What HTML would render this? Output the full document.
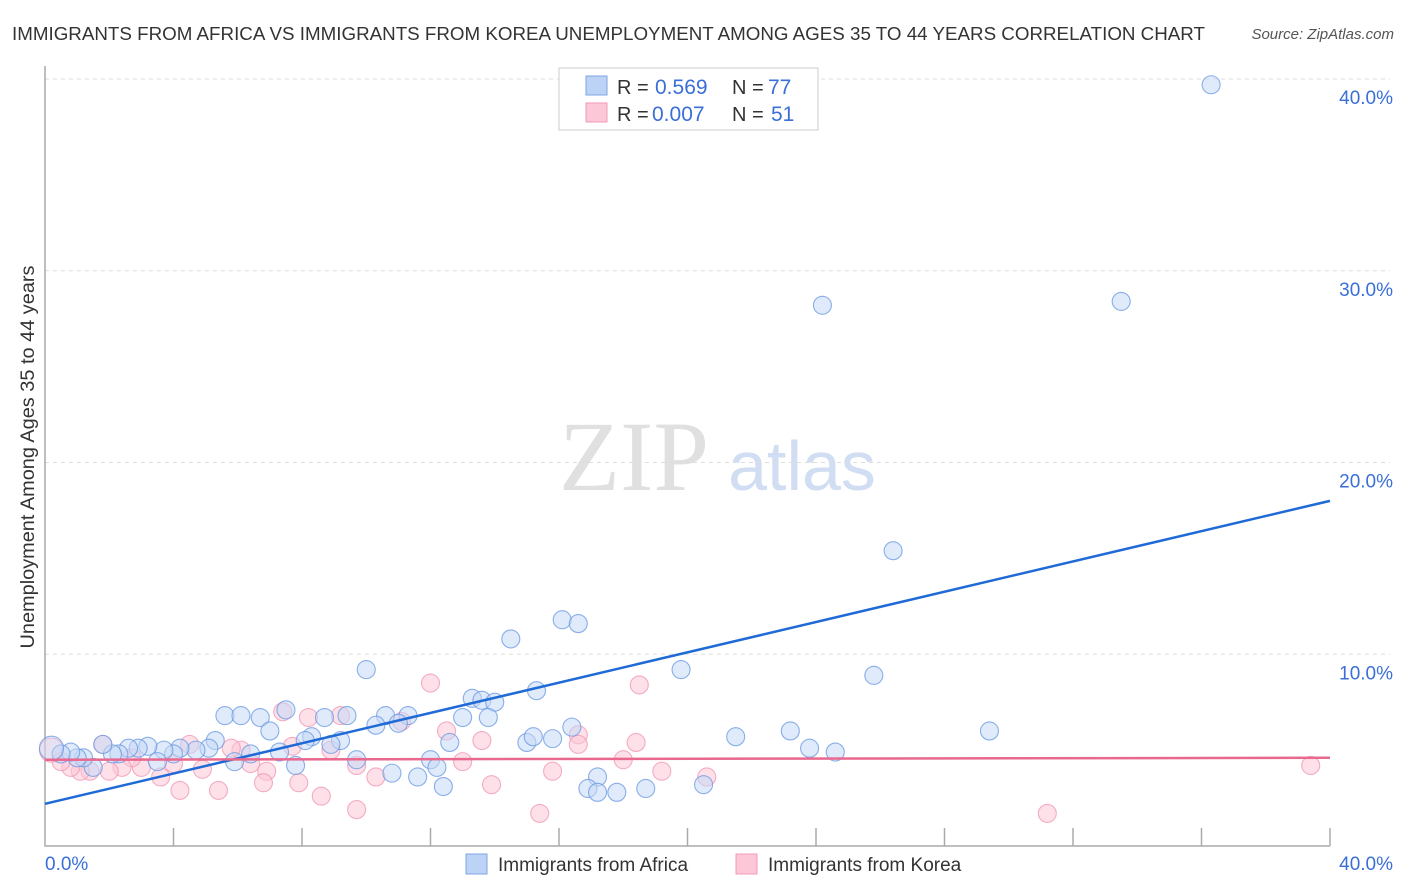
<!DOCTYPE html>
<html><head><meta charset="utf-8"><style>
body{margin:0;background:#fff;font-family:"Liberation Sans",sans-serif;}
svg{display:block}
</style></head><body>
<svg id="chart" width="1406" height="892">
<text x="12" y="40" font-size="18" fill="#333" textLength="1193" lengthAdjust="spacingAndGlyphs">IMMIGRANTS FROM AFRICA VS IMMIGRANTS FROM KOREA UNEMPLOYMENT AMONG AGES 35 TO 44 YEARS CORRELATION CHART</text>
<text x="1394" y="39" font-size="15" fill="#555" font-style="italic" text-anchor="end">Source: ZipAtlas.com</text>
<text transform="translate(34,457) rotate(-90)" font-size="19" fill="#333" text-anchor="middle" textLength="383" lengthAdjust="spacingAndGlyphs">Unemployment Among Ages 35 to 44 years</text>
<text x="634" y="490" font-size="100" fill="#e0e0e0" font-family="Liberation Serif, serif" text-anchor="middle">ZIP</text>
<text x="802" y="490" font-size="70" fill="#d0ddf2" text-anchor="middle">atlas</text>
<g id="grid"></g><g id="axes"></g><g id="pts"></g><g id="lines"></g>
<g>
<rect x="559" y="68" width="259" height="62" fill="#fff" stroke="#ccc"/>
<rect x="586" y="76" width="21" height="19" fill="#bcd3f5" stroke="#7ea6e6"/>
<rect x="586" y="103" width="21" height="19" fill="#fcc8d8" stroke="#f09ab5"/>
<text x="617" y="94" font-size="20" fill="#333">R =</text>
<text x="655" y="94" font-size="21" fill="#3a6fd8">0.569</text>
<text x="732" y="94" font-size="20" fill="#333">N =</text>
<text x="768" y="94" font-size="21" fill="#3a6fd8">77</text>
<text x="617" y="121" font-size="20" fill="#333">R =</text>
<text x="652" y="121" font-size="21" fill="#3a6fd8">0.007</text>
<text x="732" y="121" font-size="20" fill="#333">N =</text>
<text x="771" y="121" font-size="21" fill="#3a6fd8">51</text>
</g>
<g>
<rect x="466" y="854" width="21" height="20" fill="#bcd3f5" stroke="#7ea6e6"/>
<text x="498" y="871" font-size="19" fill="#333">Immigrants from Africa</text>
<rect x="736" y="854" width="21" height="20" fill="#fcc8d8" stroke="#f09ab5"/>
<text x="768" y="871" font-size="19" fill="#333">Immigrants from Korea</text>
</g>
</svg>
<script>
const yTicks=[10,20,30,40];
const yTickLabels=["10.0%","20.0%","30.0%","40.0%"];
const xTickLabels=["0.0%","40.0%"];
const africaX=[36.3,24.2,33.5,26.4,16.1,16.6,14.5,10.0,19.8,25.8,15.3,13.3,13.6,14.0,13.0,13.8,9.4,11.3,10.6,8.7,5.6,6.1,6.7,7.0,7.5,10.3,11.0,12.6,12.0,12.2,11.6,10.8,12.4,9.7,9.2,8.9,8.3,8.1,7.8,7.3,6.4,5.9,5.3,5.1,4.7,4.2,4.0,3.7,3.5,3.2,2.9,2.6,2.3,2.1,1.8,1.5,1.2,1.0,0.8,0.5,0.2,15.0,15.2,15.8,16.4,21.5,23.2,23.8,24.6,29.4,17.2,16.9,17.2,17.8,18.7,20.5];
const africaY=[39.7,28.2,28.4,15.4,11.8,11.6,10.8,9.2,9.2,8.9,8.1,7.7,7.6,7.5,6.7,6.7,6.8,6.8,6.8,6.7,6.8,6.8,6.7,6.0,7.1,6.3,6.4,5.4,4.5,4.1,3.6,3.8,3.1,4.5,5.5,5.3,5.7,5.5,4.2,4.9,4.8,4.4,5.5,5.1,5.0,5.1,4.8,5.0,4.4,5.2,5.1,5.1,4.8,4.8,5.3,4.1,4.6,4.6,4.9,4.8,5.1,5.4,5.7,5.6,6.2,5.7,6.0,5.1,4.9,6.0,3.6,3.0,2.8,2.8,3.0,3.2];
const koreaX=[12.0,18.5,7.4,8.2,9.2,11.1,12.5,13.6,13.0,7.7,8.9,9.7,10.3,7.9,8.6,9.7,13.9,6.9,6.8,6.4,6.1,5.8,5.4,4.9,4.5,4.2,4.0,3.6,3.0,2.7,2.4,2.0,1.8,1.4,1.1,0.8,0.5,0.2,16.6,16.6,18.4,18.0,15.8,19.2,20.6,15.4,31.2,39.4];
const koreaY=[8.5,8.4,7.0,6.7,6.8,6.5,6.0,5.5,4.4,5.2,5.0,4.2,3.6,3.3,2.6,1.9,3.2,3.9,3.3,4.3,5.0,5.1,2.9,4.0,5.3,2.9,4.3,3.6,4.1,4.6,4.1,3.9,5.3,3.9,3.9,4.1,4.4,5.0,5.8,5.3,5.4,4.5,3.9,3.9,3.6,1.7,1.7,4.2];
const africaTrend=[2.2,18.0];
const koreaTrend=[4.5,4.6];
const NS='http://www.w3.org/2000/svg';
const L=45,R=1330,T=79,B=846;
const sx=v=>L+v/40*(R-L), sy=v=>B-v/40*(B-T);
function mk(tag,at,parent){const e=document.createElementNS(NS,tag);for(const k in at)e.setAttribute(k,at[k]);document.getElementById(parent).appendChild(e);return e;}
yTicks.forEach((t,i)=>{
 const g=mk('line',{x1:L,x2:R+60,y1:sy(t),y2:sy(t),stroke:'#ddd','stroke-dasharray':'4,4'},'grid');
 
 
 const tx=mk('text',{x:1393,y:sy(t)+25,'font-size':19,fill:'#3a6fd8','text-anchor':'end'},'grid');
 tx.textContent=yTickLabels[i];
 
 
});
const ax=mk('path',{d:`M${L} 66V${B}H${R}`,stroke:'#aaa',fill:'none','stroke-width':1.5},'axes');


for(let i=1;i<=10;i++){const t=mk('line',{x1:sx(i*4),x2:sx(i*4),y1:828,y2:B,stroke:'#aaa','stroke-width':1.5},'axes');
 
 }
const x0=mk('text',{x:45,y:870,'font-size':19,fill:'#3a6fd8'},'axes');x0.textContent=xTickLabels[0];


const x1=mk('text',{x:1393,y:870,'font-size':19,fill:'#3a6fd8','text-anchor':'end'},'axes');x1.textContent=xTickLabels[1];


function pts(X,Y,fill,stroke,name){X.forEach((x,i)=>{const r=(x<0.4)?12:9;
 const c=mk('circle',{cx:sx(x),cy:sy(Y[i]),r:r,fill:fill,'fill-opacity':(x<0.4)?0.4:0.55,stroke:stroke,'stroke-opacity':0.75,'stroke-width':1.1},'pts');
 
 });}
pts(koreaX,koreaY,'#fbc7d6','#f094b2','korea-point');
pts(africaX,africaY,'#c4d8f6','#6796e2','africa-point');
const l1=mk('line',{x1:sx(0),y1:sy(africaTrend[0]),x2:sx(40),y2:sy(africaTrend[1]),stroke:'#1f6ad6','stroke-width':2.5},'lines');


const l2=mk('line',{x1:sx(0),y1:sy(koreaTrend[0]),x2:sx(40),y2:sy(koreaTrend[1]),stroke:'#e8688f','stroke-width':2.5},'lines');


</script>
</body></html>
